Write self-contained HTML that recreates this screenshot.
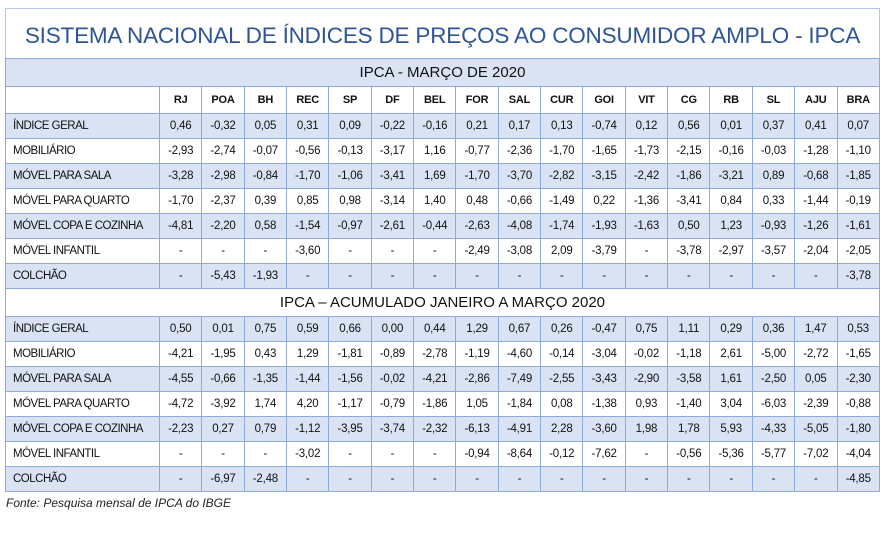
<!DOCTYPE html>
<html><head><meta charset="utf-8"><style>
body{margin:0;background:#fff;width:889px;height:538px;position:relative;font-family:"Liberation Sans",Arial,sans-serif;}
#title{position:absolute;left:5px;top:8px;width:873px;height:50px;border:1px solid #b4c6e7;border-bottom:none;color:#2f5597;font-size:22.5px;line-height:54px;text-align:center;white-space:nowrap;letter-spacing:-0.2px;}
table{position:absolute;left:5px;top:58px;border-collapse:collapse;table-layout:fixed;width:874px;}
td{border:1px solid #8eaadb;font-size:11.5px;text-align:center;padding:0;color:#111;overflow:hidden;white-space:nowrap;letter-spacing:-0.2px;}
td.l{text-align:left;padding-left:7px;font-size:11.5px;letter-spacing:-0.5px;}
tr.b td{background:#dae3f3;}
tr.r td{height:24px;}
tr.sec td{font-size:15px;height:27px;letter-spacing:0;}
tr.h td{font-weight:bold;height:26px;font-size:11px;}
#src{position:absolute;left:6px;top:496px;font-size:12px;font-style:italic;color:#222;}
</style></head><body>
<div id="title">SISTEMA NACIONAL DE ÍNDICES DE PREÇOS AO CONSUMIDOR AMPLO - IPCA</div>
<table>
<colgroup><col style="width:154px"><col span="17" style="width:42.35px"></colgroup>
<tr class="sec b"><td colspan="18">IPCA - MARÇO DE 2020</td></tr>
<tr class="h"><td></td><td>RJ</td><td>POA</td><td>BH</td><td>REC</td><td>SP</td><td>DF</td><td>BEL</td><td>FOR</td><td>SAL</td><td>CUR</td><td>GOI</td><td>VIT</td><td>CG</td><td>RB</td><td>SL</td><td>AJU</td><td>BRA</td></tr>
<tr class="r b"><td class="l">ÍNDICE GERAL</td><td>0,46</td><td>-0,32</td><td>0,05</td><td>0,31</td><td>0,09</td><td>-0,22</td><td>-0,16</td><td>0,21</td><td>0,17</td><td>0,13</td><td>-0,74</td><td>0,12</td><td>0,56</td><td>0,01</td><td>0,37</td><td>0,41</td><td>0,07</td></tr>
<tr class="r"><td class="l">MOBILIÁRIO</td><td>-2,93</td><td>-2,74</td><td>-0,07</td><td>-0,56</td><td>-0,13</td><td>-3,17</td><td>1,16</td><td>-0,77</td><td>-2,36</td><td>-1,70</td><td>-1,65</td><td>-1,73</td><td>-2,15</td><td>-0,16</td><td>-0,03</td><td>-1,28</td><td>-1,10</td></tr>
<tr class="r b"><td class="l">MÓVEL PARA SALA</td><td>-3,28</td><td>-2,98</td><td>-0,84</td><td>-1,70</td><td>-1,06</td><td>-3,41</td><td>1,69</td><td>-1,70</td><td>-3,70</td><td>-2,82</td><td>-3,15</td><td>-2,42</td><td>-1,86</td><td>-3,21</td><td>0,89</td><td>-0,68</td><td>-1,85</td></tr>
<tr class="r"><td class="l">MÓVEL PARA QUARTO</td><td>-1,70</td><td>-2,37</td><td>0,39</td><td>0,85</td><td>0,98</td><td>-3,14</td><td>1,40</td><td>0,48</td><td>-0,66</td><td>-1,49</td><td>0,22</td><td>-1,36</td><td>-3,41</td><td>0,84</td><td>0,33</td><td>-1,44</td><td>-0,19</td></tr>
<tr class="r b"><td class="l">MÓVEL COPA E COZINHA</td><td>-4,81</td><td>-2,20</td><td>0,58</td><td>-1,54</td><td>-0,97</td><td>-2,61</td><td>-0,44</td><td>-2,63</td><td>-4,08</td><td>-1,74</td><td>-1,93</td><td>-1,63</td><td>0,50</td><td>1,23</td><td>-0,93</td><td>-1,26</td><td>-1,61</td></tr>
<tr class="r"><td class="l">MÓVEL INFANTIL</td><td>-</td><td>-</td><td>-</td><td>-3,60</td><td>-</td><td>-</td><td>-</td><td>-2,49</td><td>-3,08</td><td>2,09</td><td>-3,79</td><td>-</td><td>-3,78</td><td>-2,97</td><td>-3,57</td><td>-2,04</td><td>-2,05</td></tr>
<tr class="r b"><td class="l">COLCHÃO</td><td>-</td><td>-5,43</td><td>-1,93</td><td>-</td><td>-</td><td>-</td><td>-</td><td>-</td><td>-</td><td>-</td><td>-</td><td>-</td><td>-</td><td>-</td><td>-</td><td>-</td><td>-3,78</td></tr>
<tr class="sec"><td colspan="18">IPCA – ACUMULADO JANEIRO A MARÇO 2020</td></tr>
<tr class="r b"><td class="l">ÍNDICE GERAL</td><td>0,50</td><td>0,01</td><td>0,75</td><td>0,59</td><td>0,66</td><td>0,00</td><td>0,44</td><td>1,29</td><td>0,67</td><td>0,26</td><td>-0,47</td><td>0,75</td><td>1,11</td><td>0,29</td><td>0,36</td><td>1,47</td><td>0,53</td></tr>
<tr class="r"><td class="l">MOBILIÁRIO</td><td>-4,21</td><td>-1,95</td><td>0,43</td><td>1,29</td><td>-1,81</td><td>-0,89</td><td>-2,78</td><td>-1,19</td><td>-4,60</td><td>-0,14</td><td>-3,04</td><td>-0,02</td><td>-1,18</td><td>2,61</td><td>-5,00</td><td>-2,72</td><td>-1,65</td></tr>
<tr class="r b"><td class="l">MÓVEL PARA SALA</td><td>-4,55</td><td>-0,66</td><td>-1,35</td><td>-1,44</td><td>-1,56</td><td>-0,02</td><td>-4,21</td><td>-2,86</td><td>-7,49</td><td>-2,55</td><td>-3,43</td><td>-2,90</td><td>-3,58</td><td>1,61</td><td>-2,50</td><td>0,05</td><td>-2,30</td></tr>
<tr class="r"><td class="l">MÓVEL PARA QUARTO</td><td>-4,72</td><td>-3,92</td><td>1,74</td><td>4,20</td><td>-1,17</td><td>-0,79</td><td>-1,86</td><td>1,05</td><td>-1,84</td><td>0,08</td><td>-1,38</td><td>0,93</td><td>-1,40</td><td>3,04</td><td>-6,03</td><td>-2,39</td><td>-0,88</td></tr>
<tr class="r b"><td class="l">MÓVEL COPA E COZINHA</td><td>-2,23</td><td>0,27</td><td>0,79</td><td>-1,12</td><td>-3,95</td><td>-3,74</td><td>-2,32</td><td>-6,13</td><td>-4,91</td><td>2,28</td><td>-3,60</td><td>1,98</td><td>1,78</td><td>5,93</td><td>-4,33</td><td>-5,05</td><td>-1,80</td></tr>
<tr class="r"><td class="l">MÓVEL INFANTIL</td><td>-</td><td>-</td><td>-</td><td>-3,02</td><td>-</td><td>-</td><td>-</td><td>-0,94</td><td>-8,64</td><td>-0,12</td><td>-7,62</td><td>-</td><td>-0,56</td><td>-5,36</td><td>-5,77</td><td>-7,02</td><td>-4,04</td></tr>
<tr class="r b"><td class="l">COLCHÃO</td><td>-</td><td>-6,97</td><td>-2,48</td><td>-</td><td>-</td><td>-</td><td>-</td><td>-</td><td>-</td><td>-</td><td>-</td><td>-</td><td>-</td><td>-</td><td>-</td><td>-</td><td>-4,85</td></tr>
</table>
<div id="src">Fonte: Pesquisa mensal de IPCA do IBGE</div>
</body></html>
